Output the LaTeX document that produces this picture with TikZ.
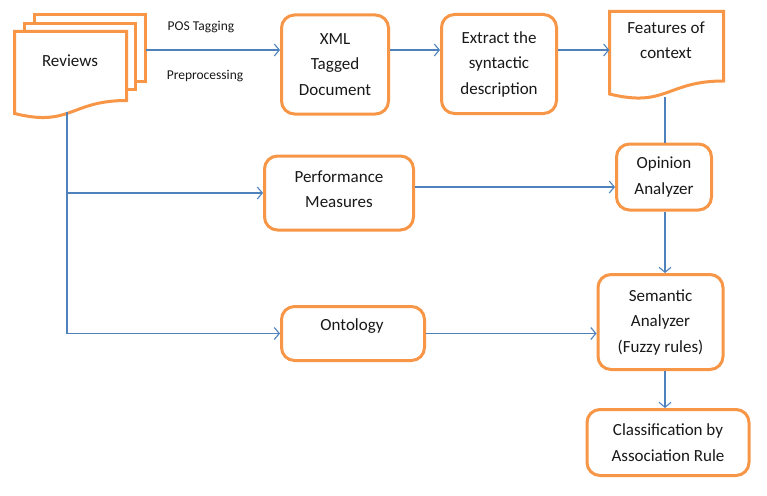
\documentclass[tikz,border=0pt]{standalone}
\usepackage{fontspec}
\setmainfont{Carlito}
\usetikzlibrary{arrows.meta}
\definecolor{orng}{RGB}{247,150,70}
\definecolor{lnblue}{RGB}{79,129,189}
\definecolor{txt}{RGB}{25,25,25}
\tikzset{
  box/.style={draw=orng, line width=3pt, rounded corners=13pt, fill=white, align=center, text=txt, font=\fontsize{17}{25.5}\selectfont, inner sep=0pt},
  doc/.style={draw=orng, line width=3pt, fill=white, line join=miter},
  lbl/.style={text=txt, font=\fontsize{17}{25.5}\selectfont, align=center, inner sep=0pt},
  small/.style={text=txt, font=\fontsize{13.5}{16}\selectfont, inner sep=0pt},
  conn/.style={draw=lnblue, line width=1.1pt},
  arr/.style={conn, -{Straight Barb[length=5pt,width=12pt]}}
}
\begin{document}
\begin{tikzpicture}[x=1pt,y=-1pt]
\useasboundingbox (0,0) rectangle (767,495);
% Reviews stack
\draw[doc] (34.5,14.5) rectangle (145.5,81.5);
\draw[doc] (24.5,23.5) rectangle (135.5,89.5);
\draw[doc] (14.5,31.5) -- (126.5,31.5) -- (126.5,100.5)
  .. controls (70.5,100.5) and (70.5,127.5) .. (14.5,113.5) -- cycle;
\node[lbl] (rev) at (70,61) {Reviews};
\coordinate (revout) at (146,50);
\coordinate (revbot) at (67,112);
% Features of context
\draw[doc] (609.5,11.5) -- (723.5,11.5) -- (723.5,81)
  .. controls (666.5,81) and (666.5,108) .. (609.5,94) -- cycle;
\node[minimum width=114pt, minimum height=88pt, inner sep=0pt] (feat) at (666.5,55.5) {};
\node[lbl] (feattext) at (666,40) {Features of\\context};
\coordinate (featbot) at (665,97);
% boxes
\node[box, minimum width=107pt, minimum height=99pt] (xml) at (335,64.5) {XML\\Tagged\\Document};
\node[box, minimum width=115pt, minimum height=99pt] (ext) at (499,64) {Extract the\\syntactic\\description};
\node[box, minimum width=95pt, minimum height=66pt] (opi) at (664,177) {Opinion\\Analyzer};
\node[box, minimum width=149pt, minimum height=74pt] (perf) at (339,193) {};
\node[lbl] (perftext) at (339,189) {Performance\\Measures};
\node[box, minimum width=143pt, minimum height=54pt] (onto) at (353,333.5) {};
\node[lbl] (ontotext) at (352,326) {Ontology};
\node[box, minimum width=125pt, minimum height=95pt] (sem) at (660.5,322) {Semantic\\Analyzer\\(Fuzzy rules)};
\node[box, minimum width=162pt, minimum height=66pt] (cls) at (668,442.5) {Classification by\\Association Rule};
% labels
\node[small] (pos) at (201,27) {POS Tagging};
\node[small] (pre) at (205,76) {Preprocessing};
% connectors
\draw[arr] (revout) -- (revout -| xml.west);
\draw[arr] (xml.east |- revout) -- (ext.west |- revout);
\draw[arr] (ext.east |- revout) -- (feat.west |- revout);
\draw[conn] (featbot) -- (featbot |- opi.north);
\draw[arr] ([yshift=6pt]perf.east) -- ([yshift=6pt]perf.east -| opi.west);
\draw[arr] (featbot |- opi.south) -- (featbot |- sem.north);
\draw[arr] (featbot |- sem.south) -- (featbot |- cls.north);
\draw[arr] (onto.east) -- (onto.east -| sem.west);
\draw[conn] (revbot) -- (revbot |- onto.west) -- (onto.west);
\draw[arr] (revbot |- perf.west) -- (perf.west);
\draw[arr] (revbot |- onto.west) -- (onto.west);
\end{tikzpicture}
\end{document}
